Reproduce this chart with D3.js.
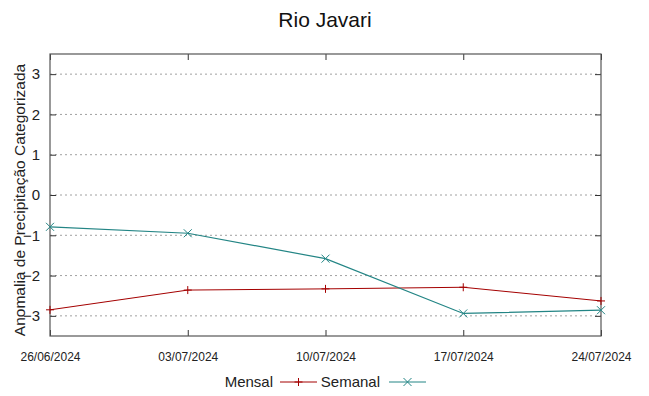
<!DOCTYPE html>
<html>
<head>
<meta charset="utf-8">
<script src="https://cdn.jsdelivr.net/npm/d3@7"></script>
<style>
  body { margin: 0; background: #fff; }
  text { font-family: "Liberation Sans", Arial, sans-serif; }
</style>
</head>
<body>
<div id="chart"></div>
<script>
// Données
const datas = ["26/06/2024", "03/07/2024", "10/07/2024", "17/07/2024", "24/07/2024"];
const mensal = [-2.85, -2.36, -2.33, -2.29, -2.63];
const semanal = [-0.79, -0.95, -1.58, -2.94, -2.86];
const yTicks = [-3, -2, -1, 0, 1, 2, 3];

const W = 649, H = 396;
const margin = { top: 54, right: 48, bottom: 60, left: 50 },
      width = W - margin.left - margin.right,
      height = H - margin.top - margin.bottom;

const svg = d3.select("#chart").append("svg")
    .attr("width", W)
    .attr("height", H);

const g = svg.append("g")
    .attr("transform", `translate(${margin.left},${margin.top})`);

const parse = d3.timeParse("%d/%m/%Y");
const x = d3.scaleTime()
    .domain([parse(datas[0]), parse(datas[datas.length - 1])])
    .range([0, width]);

const y = d3.scaleLinear()
    .domain([-3.5, 3.5])
    .range([height, 0]);

// Grille horizontale
g.append("g")
    .selectAll("line")
    .data(yTicks)
    .join("line")
    .attr("x1", 0)
    .attr("x2", width)
    .attr("y1", d => y(d))
    .attr("y2", d => y(d))
    .attr("stroke", "#a0a0a0")
    .attr("stroke-width", 1)
    .attr("stroke-dasharray", "2,3");

// Axes (ticks vers l'intérieur)
const tickDates = datas.map(parse);
const axisStyle = sel => {
    sel.select(".domain").remove();
    sel.selectAll(".tick line").attr("stroke", "#333");
};

g.append("g")
    .call(d3.axisLeft(y).tickValues(yTicks).tickSize(-6).tickPadding(10).tickFormat(d3.format("d")))
    .call(axisStyle)
    .call(s => s.selectAll("text").attr("font-size", 15).attr("fill", "#222").attr("font-family", "Liberation Sans, Arial, sans-serif"));

g.append("g")
    .attr("transform", `translate(${width},0)`)
    .call(d3.axisRight(y).tickValues(yTicks).tickSize(-6).tickFormat(""))
    .call(axisStyle);

g.append("g")
    .attr("transform", `translate(0,${height})`)
    .call(d3.axisBottom(x).tickValues(tickDates).tickSize(-6).tickPadding(16).tickFormat(d3.timeFormat("%d/%m/%Y")))
    .call(axisStyle)
    .call(s => s.selectAll("text").attr("font-size", 12).attr("fill", "#222").attr("font-family", "Liberation Sans, Arial, sans-serif"));

g.append("g")
    .call(d3.axisTop(x).tickValues(tickDates).tickSize(-6).tickFormat(""))
    .call(axisStyle);

// Cadre
g.append("rect")
    .attr("width", width)
    .attr("height", height)
    .attr("fill", "none")
    .attr("stroke", "#555")
    .attr("stroke-width", 1.2);

// Lignes
const mensalColor = "#a40000";
const semanalColor = "#238585";

const line = d3.line()
    .x((d, i) => x(parse(datas[i])))
    .y(d => y(d));

g.append("path")
    .datum(mensal)
    .attr("fill", "none")
    .attr("stroke", mensalColor)
    .attr("stroke-width", 1)
    .attr("d", line);

g.append("path")
    .datum(semanal)
    .attr("fill", "none")
    .attr("stroke", semanalColor)
    .attr("stroke-width", 1.2)
    .attr("d", line);

// Marqueurs
const s = 4;
const plus = (px, py) => `M${px - s},${py}H${px + s}M${px},${py - s}V${py + s}`;
const cross = (px, py) => `M${px - s},${py - s}L${px + s},${py + s}M${px - s},${py + s}L${px + s},${py - s}`;

g.append("g").selectAll("path")
    .data(mensal)
    .join("path")
    .attr("d", (d, i) => plus(x(parse(datas[i])), y(d)))
    .attr("stroke", mensalColor)
    .attr("stroke-width", 1);

g.append("g").selectAll("path")
    .data(semanal)
    .join("path")
    .attr("d", (d, i) => cross(x(parse(datas[i])), y(d)))
    .attr("stroke", semanalColor)
    .attr("stroke-width", 1);

// Titre
svg.append("text")
    .attr("x", 325)
    .attr("y", 27)
    .attr("text-anchor", "middle")
    .attr("font-size", 21)
    .attr("fill", "#111")
    .text("Rio Javari");

// Titre de l'axe Y
svg.append("text")
    .attr("transform", `translate(25,200) rotate(-90)`)
    .attr("text-anchor", "middle")
    .attr("font-size", 15.5)
    .attr("fill", "#222")
    .text("Anomalia de Precipitação Categorizada");

// Légende
const leg = svg.append("g");
leg.append("text").attr("x", 273).attr("y", 387).attr("text-anchor", "end")
    .attr("font-size", 15).attr("fill", "#222").text("Mensal");
leg.append("line").attr("x1", 280).attr("x2", 317).attr("y1", 382).attr("y2", 382)
    .attr("stroke", mensalColor);
leg.append("path").attr("d", plus(298.5, 382)).attr("stroke", mensalColor);

leg.append("text").attr("x", 380).attr("y", 387).attr("text-anchor", "end")
    .attr("font-size", 15).attr("fill", "#222").text("Semanal");
leg.append("line").attr("x1", 389).attr("x2", 426).attr("y1", 382).attr("y2", 382)
    .attr("stroke", semanalColor);
leg.append("path").attr("d", cross(407.5, 382)).attr("stroke", semanalColor);
</script>
</body>
</html>
